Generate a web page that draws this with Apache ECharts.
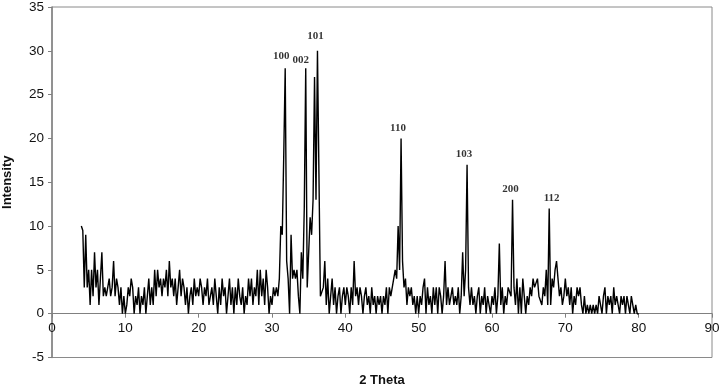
<!DOCTYPE html>
<html>
<head>
<meta charset="utf-8">
<script src="https://cdn.jsdelivr.net/npm/echarts@6/dist/echarts.min.js"></script>
<style>
html,body{margin:0;padding:0;background:#fff;}
#chart{width:720px;height:388px;}
</style>
</head>
<body>
<div id="chart"></div>
<script>
// XRD scan grid (2θ start and step, degrees)
const scanStart = 4.0;
const scanStep = 0.2;
// Intensity at each scan step (5 values per degree, 4.0 … 80.0)
const intensity = [
  10, 9.5, 3, 9, 3,      // 4
  5, 1, 5, 2, 7,         // 5
  3, 5, 1, 4, 7,         // 6
  2, 3, 2, 3, 4,         // 7
  2, 3, 6, 2, 4,         // 8
  3, 1, 3, 0, 2,         // 9
  0, 1, 3, 2, 4,         // 10
  3, 0, 2, 1, 3,         // 11
  0, 2, 1, 3, 0,         // 12
  2, 4, 1, 3, 1,         // 13
  5, 2, 5, 3, 4,         // 14
  2, 4, 3, 5, 2,         // 15
  6, 3, 4, 2, 4,         // 16
  1, 3, 5, 2, 4,         // 17
  3, 1, 3, 0, 2,         // 18
  3, 1, 4, 2, 3,         // 19
  2, 4, 3, 1, 3,         // 20
  2, 4, 1, 2, 3,         // 21
  1, 4, 2, 0, 3,         // 22
  1, 4, 2, 3, 0,         // 23
  2, 4, 1, 3, 0,         // 24
  3, 1, 4, 2, 1,         // 25
  3, 0, 2, 1, 4,         // 26
  2, 4, 1, 3, 2,         // 27
  5, 1, 5, 2, 4,         // 28
  1, 5, 3, 0, 2,         // 29
  1, 3, 2, 3, 2,         // 30
  4, 10, 9, 18, 28,      // 31
  6, 4, 0, 9, 4,         // 32
  5, 4, 5, 2, 0,         // 33
  7, 4, 12, 28, 3,       // 34
  7, 11, 9, 13, 27,      // 35
  13, 30, 16, 2, 2,      // 36
  3, 6, 1, 4, 0,         // 37
  2, 4, 1, 3, 0,         // 38
  2, 3, 0, 2, 3,         // 39
  1, 3, 2, 0, 3,         // 40
  1, 6, 2, 3, 1,         // 41
  3, 2, 0, 2, 3,         // 42
  1, 2, 0, 3, 1,         // 43
  2, 0, 2, 1, 2,         // 44
  0, 2, 1, 3, 0,         // 45
  3, 2, 2, 4, 5,         // 46
  4, 10, 5, 20, 6,       // 47
  3, 4, 1, 3, 2,         // 48
  3, 1, 2, 0, 2,         // 49
  0, 2, 1, 3, 4,         // 50
  0, 3, 1, 2, 0,         // 51
  3, 1, 3, 0, 3,         // 52
  2, 0, 2, 6, 1,         // 53
  3, 1, 2, 3, 1,         // 54
  2, 1, 3, 0, 2,         // 55
  7, 2, 5, 17, 3,        // 56
  1, 3, 1, 2, 0,         // 57
  2, 3, 0, 2, 1,         // 58
  3, 0, 2, 1, 0,         // 59
  2, 1, 3, 0, 2,         // 60
  8, 1, 3, 0, 2,         // 61
  1, 3, 3, 2, 13,        // 62
  3, 1, 4, 0, 3,         // 63
  0, 4, 2, 0, 2,         // 64
  1, 3, 2, 4, 3,         // 65
  3, 4, 2, 2, 1,         // 66
  3, 2, 5, 1, 12,        // 67
  1, 4, 3, 5, 6,         // 68
  4, 2, 3, 1, 2,         // 69
  4, 2, 3, 1, 3,         // 70
  0, 2, 1, 3, 2,         // 71
  3, 1, 0, 2, 0,         // 72
  1, 0, 1, 0, 1,         // 73
  0, 1, 0, 2, 1,         // 74
  0, 2, 3, 0, 2,         // 75
  1, 2, 0, 3, 1,         // 76
  2, 1, 0, 2, 1,         // 77
  2, 0, 2, 1, 0,         // 78
  2, 1, 0, 1, 0,         // 79
  0                      // 80
];
// Peak (hkl) annotations
const peakLabels = ['100', '002', '101', '110', '103', '200', '112'];
const peakTheta = [31.8, 34.6, 36.2, 47.6, 56.6, 62.8, 68.0];
const peakIntensity = [28, 28, 30, 20, 17, 13, 12];
// Axis ticks
const xTicks = { min: 0, max: 90, interval: 10 };
const yTicks = { min: -5, max: 35, interval: 5 };

const lineData = intensity.map((v, i) => [+(scanStart + i * scanStep).toFixed(1), v]);
const labelOffsets = [[-4, -2], [-5, 2], [-2, -4], [-3, 0], [-3, 0], [-2, 0], [1, 0]];
const peakData = peakLabels.map((t, i) => ({
  value: [peakTheta[i], peakIntensity[i]],
  label: { offset: labelOffsets[i] }
}));

const chart = echarts.init(document.getElementById('chart'), null, { renderer: 'canvas' });
const axisFont = { fontFamily: 'Liberation Sans, Arial, sans-serif', fontSize: 13.5, color: '#111' };
chart.setOption({
  animation: false,
  backgroundColor: '#fff',
  grid: { left: 52, right: 8, top: 7, bottom: 30.5, show: true, borderColor: '#8a8a8a', borderWidth: 1,
          containLabel: false, outerBoundsMode: 'none' },
  xAxis: {
    type: 'value', min: xTicks.min, max: xTicks.max, interval: xTicks.interval,
    name: '2 Theta', nameLocation: 'middle', nameGap: 60,
    nameTextStyle: { fontFamily: 'Liberation Sans, Arial, sans-serif', fontSize: 13, fontWeight: 'bold', color: '#111' },
    axisLine: { show: true, onZero: false, lineStyle: { color: '#808080', width: 1.2 } },
    axisTick: { show: true, length: 4, lineStyle: { color: '#808080' } },
    axisLabel: Object.assign({ margin: 8 }, axisFont),
    splitLine: { show: false }
  },
  yAxis: {
    type: 'value', min: yTicks.min, max: yTicks.max, interval: yTicks.interval,
    name: 'Intensity', nameLocation: 'middle', nameGap: 38, nameRotate: 90,
    nameTextStyle: { fontFamily: 'Liberation Sans, Arial, sans-serif', fontSize: 13, fontWeight: 'bold', color: '#111' },
    axisLine: { show: true, onZero: false, lineStyle: { color: '#808080', width: 1.5 } },
    axisTick: { show: true, length: 4, lineStyle: { color: '#808080' } },
    axisLabel: Object.assign({ margin: 8 }, axisFont),
    splitLine: { show: false }
  },
  series: [
    {
      type: 'line', data: lineData, showSymbol: false, symbol: 'none',
      lineStyle: { color: '#000', width: 1.4 }, z: 3
    },
    {
      type: 'scatter', data: peakData, symbolSize: 0, silent: true, z: 4,
      label: {
        show: true, position: 'top', distance: 5,
        formatter: p => peakLabels[p.dataIndex],
        fontFamily: 'Liberation Serif, Times New Roman, serif', fontWeight: 'bold', fontSize: 11, color: '#000'
      }
    }
  ]
});
// Put the x axis on the y = 0 line (as in the reference), using the y scale.
const zeroY = chart.convertToPixel({ yAxisIndex: 0 }, 0);
const bottomY = chart.convertToPixel({ yAxisIndex: 0 }, yTicks.min);
chart.setOption({ xAxis: { offset: zeroY - bottomY } });
</script>
</body>
</html>
